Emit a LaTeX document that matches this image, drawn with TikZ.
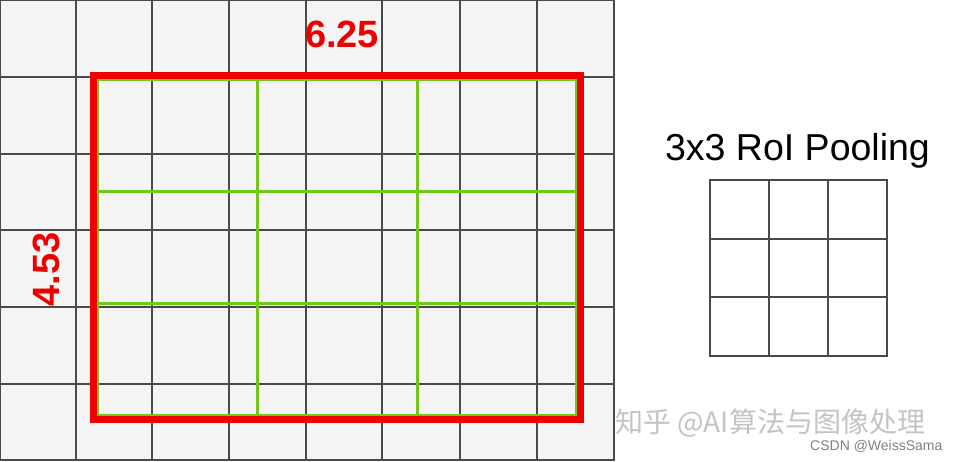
\documentclass[tikz,border=0pt]{standalone}
\usepackage{fontspec}
\setmainfont{Liberation Sans}
\newfontfamily\cjk{Noto Sans CJK SC}
\usepackage{tikz}
\usetikzlibrary{positioning}
\definecolor{cellgray}{HTML}{F4F4F4}
\definecolor{linegray}{HTML}{4A4A4A}
\definecolor{roired}{HTML}{EE0000}
\definecolor{bingreen}{HTML}{72C819}
\definecolor{markgray}{HTML}{C4C4C4}

\begin{document}
\begin{tikzpicture}[x=1pt,y=-1pt,
  cell/.style={draw=linegray,line width=1.3pt},
  roi/.style={draw=roired,line width=7pt},
  bin/.style={draw=bingreen,line width=3pt},
  dimlabel/.style={text=roired,font=\fontsize{38}{40}\selectfont\bfseries,inner sep=0pt,anchor=base},
  pooltitle/.style={font=\fontsize{37.5}{40}\selectfont,inner sep=0pt,anchor=base}]
\useasboundingbox (0,0) rectangle (960,461);
\fill[white] (0,0) rectangle (960,461);
\fill[cellgray] (0,0) rectangle (614,460);

% feature map
\draw[cell] (76,0) -- (76,460);
\draw[cell] (152,0) -- (152,460);
\draw[cell] (229,0) -- (229,460);
\draw[cell] (306,0) -- (306,460);
\draw[cell] (382,0) -- (382,460);
\draw[cell] (460,0) -- (460,460);
\draw[cell] (537,0) -- (537,460);
\draw[cell] (0,77) -- (614,77);
\draw[cell] (0,154) -- (614,154);
\draw[cell] (0,230) -- (614,230);
\draw[cell] (0,307) -- (614,307);
\draw[cell] (0,384) -- (614,384);
\draw[cell] (0,0) rectangle (614,460);

% pooling bins
\draw[bin] (97,79) rectangle (576,415);
\draw[bin] (257,79) -- (257,415);
\draw[bin] (417,79) -- (417,415);
\draw[bin] (97,191) -- (576,191);
\draw[bin] (97,303) -- (576,303);

% region
\draw[roi] (93,75) rectangle (580,419);
\node[dimlabel] (width) at (342,47) {6.25};
\node[dimlabel,rotate=90] (height) at (59,269.5) {4.53};

% output
\node[pooltitle] (title) at (797.5,160) {3x3 RoI Pooling};
\draw[cell] (710,180) rectangle (887,356);
\draw[cell] (769,180) -- (769,356);
\draw[cell] (828,180) -- (828,356);
\draw[cell] (710,239) -- (887,239);
\draw[cell] (710,297) -- (887,297);

\node[anchor=west,inner sep=0pt,text=markgray,font=\cjk\fontsize{28}{30}\selectfont] (mark) at (615,423) {知乎 @AI算法与图像处理};
\node[anchor=base west,inner sep=0pt,text=gray,font=\fontsize{14}{16}\selectfont] (csdn) at (810,450) {CSDN @WeissSama};
\end{tikzpicture}
\end{document}
